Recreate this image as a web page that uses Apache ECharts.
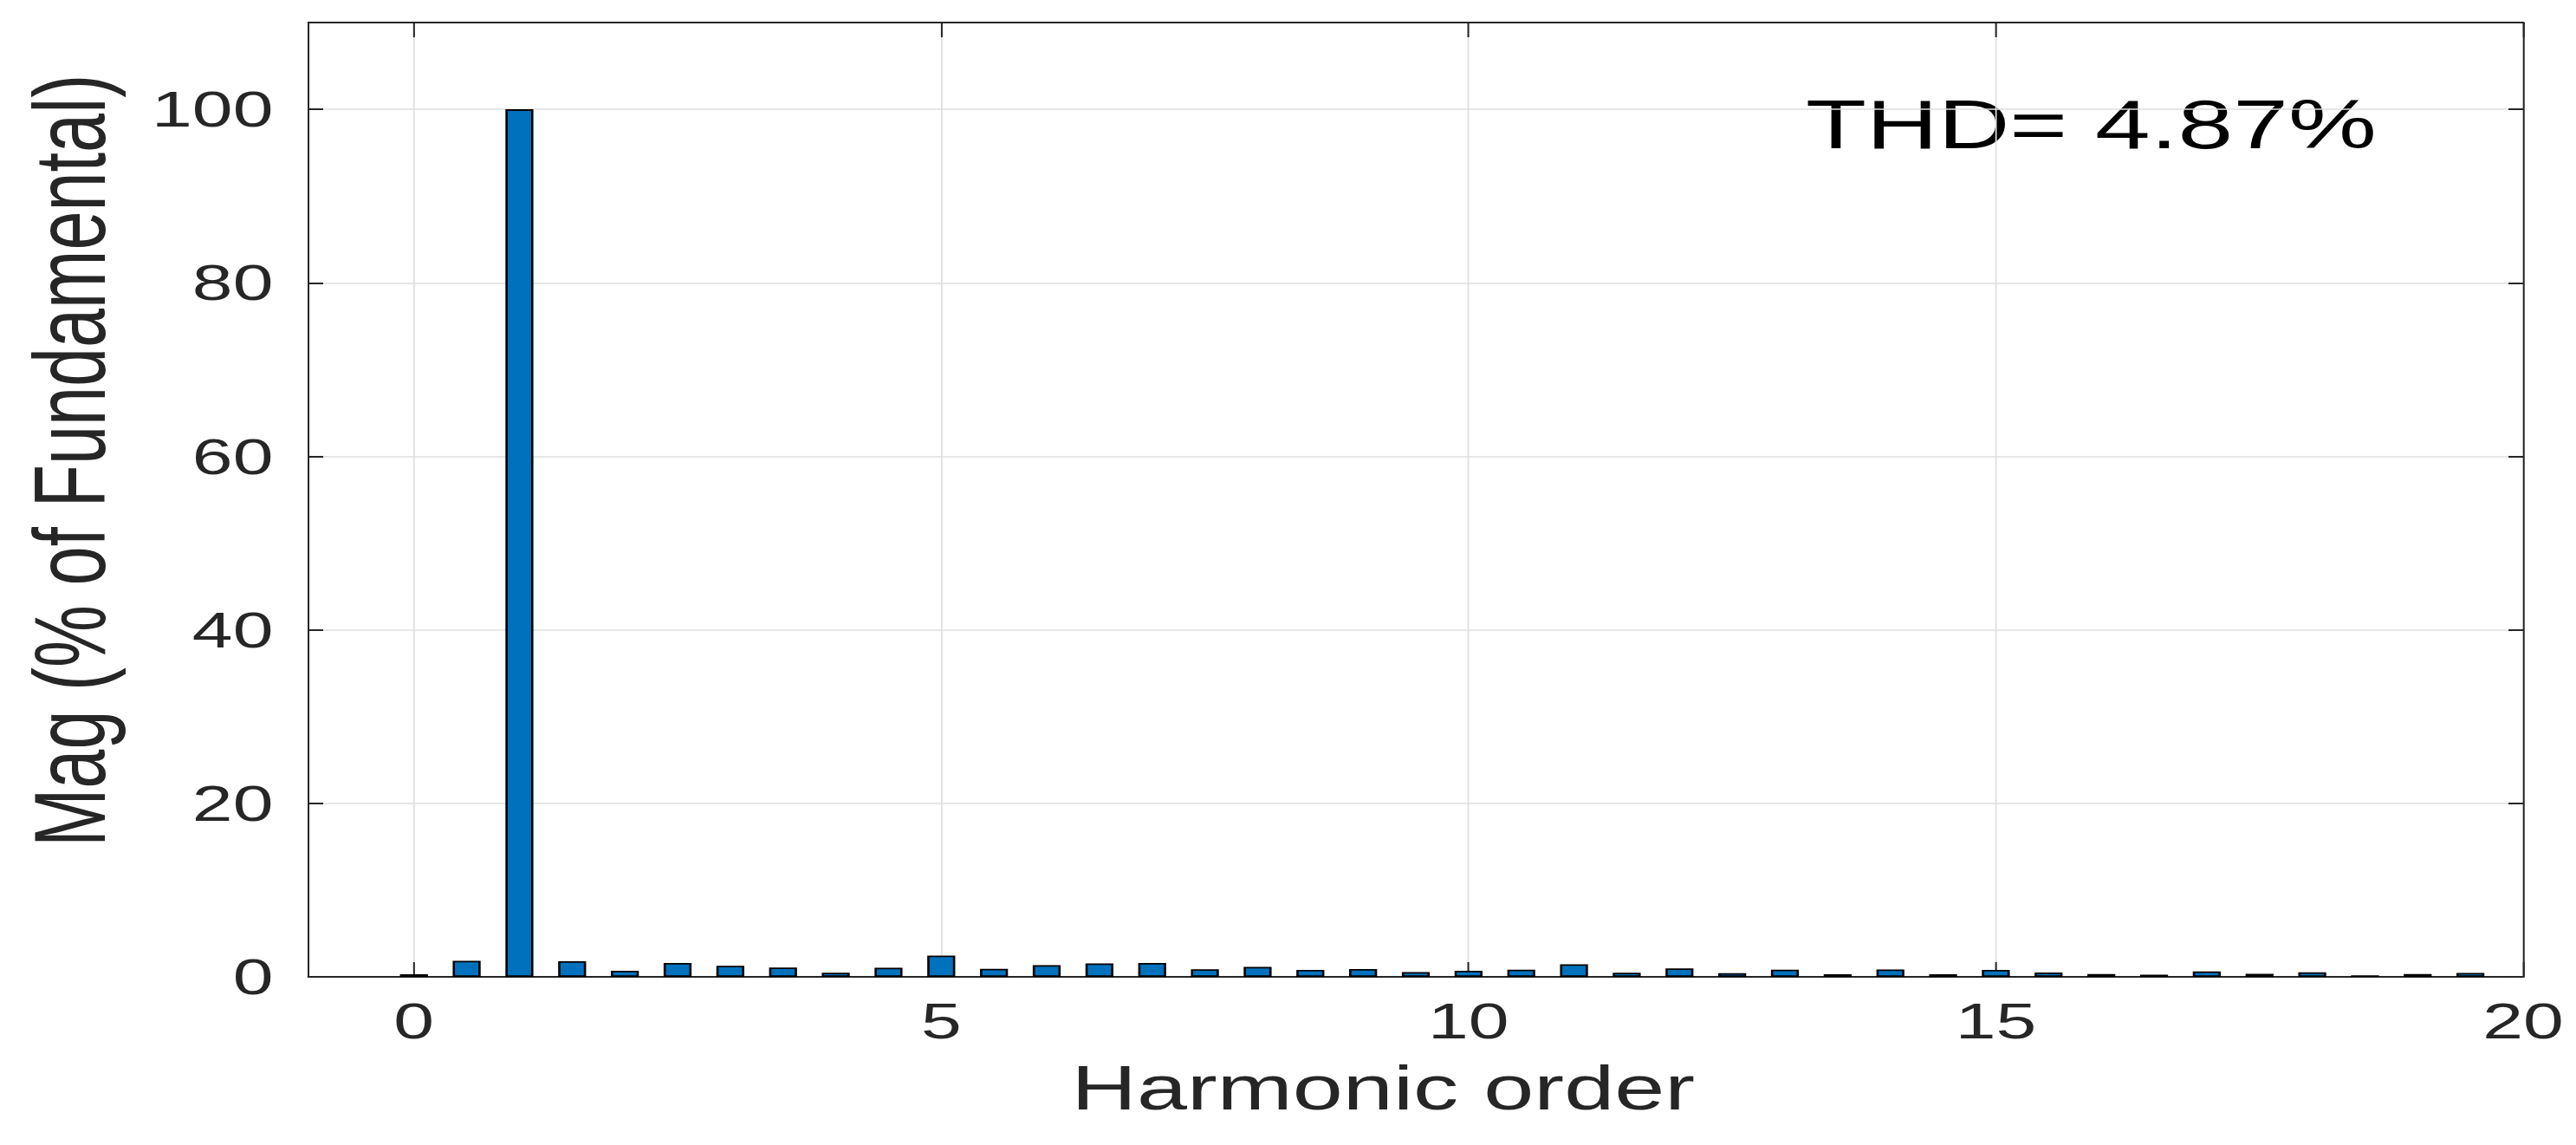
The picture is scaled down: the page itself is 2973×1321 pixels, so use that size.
<!DOCTYPE html>
<html>
<head>
<meta charset="utf-8">
<script src="https://cdn.jsdelivr.net/npm/echarts@6/dist/echarts.min.js"></script>
<style>
  html, body { margin: 0; padding: 0; background: #ffffff; overflow: hidden; }
  #wrap { width: 2973px; height: 1321px; overflow: hidden; position: relative; }
  #chart { width: 2050px; height: 1321px; transform: scaleX(1.4502); transform-origin: 0 0; position: absolute; left: 0; top: 0; }
</style>
</head>
<body>
<div id="wrap"><div id="chart"></div></div>
<script>
// Harmonic orders (x positions of bars)
const harmonicOrders = [0, 0.5, 1, 1.5, 2, 2.5, 3, 3.5, 4, 4.5, 5, 5.5, 6, 6.5, 7, 7.5, 8, 8.5, 9, 9.5,
                        10, 10.5, 11, 11.5, 12, 12.5, 13, 13.5, 14, 14.5, 15, 15.5, 16, 16.5, 17, 17.5, 18, 18.5, 19, 19.5];
// Magnitudes (% of fundamental)
const magnitudes = [0.3, 1.85, 100, 1.8, 0.7, 1.6, 1.28, 1.08, 0.48, 1.05, 2.45, 0.93, 1.35, 1.55, 1.6, 0.88, 1.15, 0.8, 0.9, 0.56,
                    0.7, 0.83, 1.45, 0.48, 0.97, 0.43, 0.83, 0.3, 0.85, 0.3, 0.8, 0.5, 0.32, 0.25, 0.62, 0.36, 0.53, 0.18, 0.32, 0.46];
// Axis range ends and tick labels
const xAxisStart = ['-1', '-0.5'];
const xAxisEnd = ['20'];
const xTickLabels = ['0', '5', '10', '15', '20'];
const yTickValues = [0, 20, 40, 60, 80, 100];
const thdText = 'THD= 4.87%';
const xTitle = 'Harmonic order';
const yTitle = 'Mag (% of Fundamental)';

const categories = xAxisStart.concat(harmonicOrders.map(String), xAxisEnd);
const seriesData = xAxisStart.map(() => null).concat(magnitudes, xAxisEnd.map(() => null));
const isMajor = (idx, val) => xTickLabels.indexOf(String(val)) >= 0;

const axisColor = '#262626';
const font = '"Liberation Sans", Arial, Helvetica, sans-serif';

const chart = echarts.init(document.getElementById('chart'), null, { renderer: 'svg' });
chart.setOption({
  animation: false,
  backgroundColor: '#ffffff',
  grid: { left: 245.5, right: 42, top: 26, bottom: 194, containLabel: false },
  xAxis: [
    {
      type: 'category',
      data: categories,
      boundaryGap: false,
      position: 'bottom',
      name: xTitle,
      nameLocation: 'middle',
      nameGap: 92,
      nameTextStyle: { fontFamily: font, fontSize: 72, color: axisColor, padding: [0, 52, 0, 0] },
      axisLine: { show: true, onZero: false, lineStyle: { color: axisColor, width: 2 } },
      axisTick: { show: true, inside: true, length: 17, interval: isMajor, lineStyle: { color: axisColor, width: 1.4 } },
      axisLabel: { show: true, interval: isMajor, margin: 22, fontFamily: font, fontSize: 58, color: axisColor },
      splitLine: { show: true, interval: isMajor, lineStyle: { color: '#dedede', width: 1.2 } }
    },
    {
      type: 'category',
      data: categories,
      boundaryGap: false,
      position: 'top',
      axisLine: { show: true, onZero: false, lineStyle: { color: axisColor, width: 2 } },
      axisTick: { show: true, inside: true, length: 17, interval: isMajor, lineStyle: { color: axisColor, width: 1.4 } },
      axisLabel: { show: false },
      splitLine: { show: false }
    }
  ],
  yAxis: [
    {
      type: 'value',
      min: 0, max: 110, interval: 20,
      position: 'left',
      name: yTitle,
      nameLocation: 'middle',
      nameGap: 150,
      nameTextStyle: { fontFamily: font, fontSize: 81, color: axisColor, padding: [0, 0, 0, 90] },
      axisLine: { show: true, lineStyle: { color: axisColor, width: 1.4 } },
      axisTick: { show: true, inside: true, length: 11.7, lineStyle: { color: axisColor, width: 2 } },
      axisLabel: { show: true, margin: 28, fontFamily: font, fontSize: 58, color: axisColor, showMaxLabel: false,
                   formatter: v => (yTickValues.indexOf(v) >= 0 ? String(v) : '') },
      splitLine: { show: true, lineStyle: { color: '#dedede', width: 1.5 } }
    },
    {
      type: 'value',
      min: 0, max: 110, interval: 20,
      position: 'right',
      axisLine: { show: true, lineStyle: { color: axisColor, width: 1.4 } },
      axisTick: { show: true, inside: true, length: 11.7, lineStyle: { color: axisColor, width: 2 } },
      axisLabel: { show: false },
      splitLine: { show: false }
    }
  ],
  series: [{
    type: 'bar',
    xAxisIndex: 0,
    yAxisIndex: 0,
    data: seriesData,
    barWidth: '53%',
    itemStyle: { color: '#0072BD', borderColor: '#000000', borderWidth: 1.8 }
  }],
  graphic: [{
    type: 'text',
    left: 1437,
    top: 104,
    style: { text: thdText, fontFamily: font, fontSize: 79, fill: '#000000' }
  }]
});
</script>
</body>
</html>
